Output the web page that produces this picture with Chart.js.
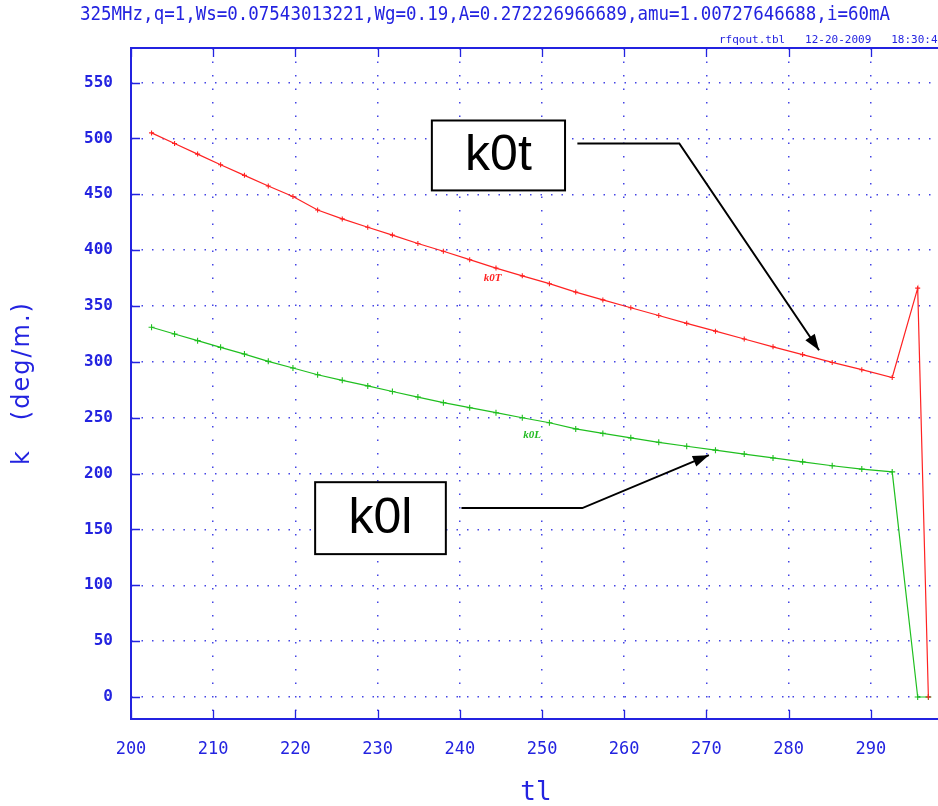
<!DOCTYPE html>
<html>
<head>
<meta charset="utf-8">
<title>k0t / k0l vs tl</title>
<script src="https://cdn.jsdelivr.net/npm/chart.js@4.4.0/dist/chart.umd.min.js"></script>
<style>
  html, body { margin: 0; padding: 0; background: #fff; overflow: hidden; }
  #wrap { width: 938px; height: 806px; position: relative; }
</style>
</head>
<body>
<div id="wrap"><canvas id="chart" width="938" height="806"></canvas></div>
<script>
// cell positions along the RFQ and the two focusing strengths (deg/m)
const tl = [202.5, 205.3, 208.1, 210.9, 213.8, 216.7, 219.7, 222.7, 225.7, 228.8,
            231.8, 234.9, 238.0, 241.2, 244.4, 247.6, 250.9, 254.1, 257.4, 260.8,
            264.2, 267.6, 271.1, 274.6, 278.1, 281.7, 285.3, 288.9, 292.6, 295.7, 297.0];
const k0t = [505, 495.5, 486, 476.5, 467, 457.5, 448, 436, 428, 420.5,
             413.5, 406, 399, 391.5, 384, 377, 370, 362.5, 355.5, 348.5,
             341.5, 334.5, 327.5, 320.5, 313.5, 306.5, 299.5, 293, 286, 366, 0];
const k0l = [331, 325, 319, 313, 307, 300.5, 294.5, 288.5, 283.5, 278.5,
             273.5, 268.5, 263.5, 259, 254.5, 250, 245.5, 240, 236, 232,
             228, 224.5, 221, 217.5, 214, 210.5, 207, 204, 201.5, 0, 0];

const xTicks = [200, 210, 220, 230, 240, 250, 260, 270, 280, 290];
const yTicks = [0, 50, 100, 150, 200, 250, 300, 350, 400, 450, 500, 550];

const runTitle = '325MHz,q=1,Ws=0.07543013221,Wg=0.19,A=0.272226966689,amu=1.00727646688,i=60mA';
const fileStamp = 'rfqout.tbl   12-20-2009   18:30:48';

// call-out boxes and arrows, in data units (tl, k)
const callouts = [
  { text: 'k0t', box: [236.6, 516.1, 252.8, 453.5],
    path: [[254.3, 495.5], [266.7, 495.5], [283.7, 310.4]] },
  { text: 'k0l', box: [222.4, 192.3, 238.3, 127.9],
    path: [[240.2, 169.1], [254.9, 169.1], [270.3, 216.5]] }
];
// small curve tags
const tags = [
  { text: 'k0T', x: 244.0, y: 375, color: '#ff2020' },
  { text: 'k0L', x: 248.8, y: 234, color: '#22bb22' }
];

const BLUE = '#2323e0';

const frameAndNotes = {
  id: 'frameAndNotes',
  afterDatasetsDraw(chart) {
    const { ctx, chartArea: a, scales: { x, y } } = chart;
    ctx.save();
    // axis frame
    ctx.strokeStyle = BLUE;
    ctx.lineWidth = 2;
    ctx.beginPath();
    ctx.moveTo(a.right + 6, a.top);
    ctx.lineTo(a.left, a.top);
    ctx.lineTo(a.left, a.bottom);
    ctx.lineTo(a.right + 6, a.bottom);
    ctx.stroke();
    // inward tick marks
    ctx.lineWidth = 1.3;
    ctx.beginPath();
    yTicks.forEach(v => {
      const py = Math.round(y.getPixelForValue(v)) + 0.5;
      ctx.moveTo(a.left, py);
      ctx.lineTo(a.left + 9, py);
    });
    xTicks.forEach(v => {
      const px = Math.round(x.getPixelForValue(v)) + 0.5;
      ctx.moveTo(px, a.bottom);
      ctx.lineTo(px, a.bottom - 9);
      ctx.moveTo(px, a.top);
      ctx.lineTo(px, a.top + 9);
    });
    ctx.stroke();

    // tags riding on the curves
    ctx.font = 'italic bold 11px "Liberation Serif"';
    ctx.textAlign = 'center';
    ctx.textBaseline = 'middle';
    tags.forEach(t => {
      ctx.fillStyle = t.color;
      ctx.fillText(t.text, x.getPixelForValue(t.x), y.getPixelForValue(t.y));
    });

    // call-outs
    callouts.forEach(c => {
      const x0 = x.getPixelForValue(c.box[0]), y0 = y.getPixelForValue(c.box[1]);
      const x1 = x.getPixelForValue(c.box[2]), y1 = y.getPixelForValue(c.box[3]);
      ctx.fillStyle = '#fff';
      ctx.fillRect(x0, y0, x1 - x0, y1 - y0);
      ctx.strokeStyle = '#000';
      ctx.lineWidth = 2;
      ctx.strokeRect(x0, y0, x1 - x0, y1 - y0);
      ctx.fillStyle = '#000';
      ctx.font = '50px "Liberation Sans"';
      ctx.fillText(c.text, (x0 + x1) / 2, (y0 + y1) / 2 + 1);

      const pts = c.path.map(p => [x.getPixelForValue(p[0]), y.getPixelForValue(p[1])]);
      ctx.beginPath();
      ctx.moveTo(pts[0][0], pts[0][1]);
      for (let i = 1; i < pts.length; i++) ctx.lineTo(pts[i][0], pts[i][1]);
      ctx.stroke();
      // arrow head
      const [ex, ey] = pts[pts.length - 1];
      const [sx, sy] = pts[pts.length - 2];
      const ang = Math.atan2(ey - sy, ex - sx);
      const len = 17, half = 0.34;
      ctx.beginPath();
      ctx.moveTo(ex, ey);
      ctx.lineTo(ex - len * Math.cos(ang - half), ey - len * Math.sin(ang - half));
      ctx.lineTo(ex - len * Math.cos(ang + half), ey - len * Math.sin(ang + half));
      ctx.closePath();
      ctx.fill();
    });

    // run parameters on top, stretched tall and narrow like the plot font
    ctx.fillStyle = BLUE;
    ctx.textAlign = 'left';
    ctx.textBaseline = 'middle';
    ctx.font = '20px "DejaVu Sans Mono"';
    const w = ctx.measureText(runTitle).width;
    ctx.save();
    ctx.translate(80, 15);
    ctx.scale(810 / w, 1);
    ctx.fillText(runTitle, 0, 0);
    ctx.restore();
    ctx.font = '11px "DejaVu Sans Mono"';
    ctx.fillText(fileStamp, 719, 40);

    // axis titles
    ctx.font = '26px "DejaVu Sans Mono"';
    ctx.textAlign = 'center';
    ctx.fillText('tl', 536, 793);
    ctx.save();
    ctx.translate(23, 383);
    ctx.rotate(-Math.PI / 2);
    ctx.font = '24px "DejaVu Sans"';
    ctx.letterSpacing = '2px';
    ctx.fillText('k   (deg/m.)', 0, 0);
    ctx.restore();
    ctx.restore();
  }
};

const points = vals => tl.map((t, i) => ({ x: t, y: vals[i] }));

new Chart(document.getElementById('chart'), {
  type: 'line',
  data: {
    datasets: [
      { label: 'k0t', data: points(k0t), borderColor: '#ff2222', borderWidth: 1.2,
        pointStyle: 'cross', pointRadius: 2.5, pointBorderWidth: 1.1,
        pointBorderColor: '#ff2222', tension: 0, fill: false },
      { label: 'k0l', data: points(k0l), borderColor: '#1fbf1f', borderWidth: 1.2,
        pointStyle: 'cross', pointRadius: 3, pointBorderWidth: 1.1,
        pointBorderColor: '#1fbf1f', tension: 0, fill: false }
    ]
  },
  options: {
    responsive: false,
    animation: false,
    devicePixelRatio: 1,
    layout: { padding: { top: 48, left: 0, right: 0, bottom: 0 } },
    plugins: { legend: { display: false }, title: { display: false }, tooltip: { enabled: false } },
    scales: {
      x: {
        type: 'linear', min: 200, max: 297.55,
        afterBuildTicks: s => { s.ticks = xTicks.map(v => ({ value: v })); },
        afterFit: s => { s.height = 87; },
        grid: { color: 'rgba(35,35,224,0.85)', lineWidth: 1.5, drawTicks: false },
        border: { display: false, dash: [1.5, 12] },
        ticks: { color: BLUE, font: { family: 'DejaVu Sans Mono', size: 17 }, padding: 20, maxRotation: 0 }
      },
      y: {
        type: 'linear', min: -19.7, max: 581,
        afterBuildTicks: s => { s.ticks = yTicks.map(v => ({ value: v })); },
        afterFit: s => { s.width = 131; },
        grid: { color: 'rgba(35,35,224,0.85)', lineWidth: 1.5, drawTicks: false },
        border: { display: false, dash: [1.5, 9] },
        ticks: { color: BLUE, font: { family: 'DejaVu Sans Mono', size: 16, weight: 'bold' }, padding: 18 }
      }
    }
  },
  plugins: [frameAndNotes]
});
</script>
</body>
</html>
